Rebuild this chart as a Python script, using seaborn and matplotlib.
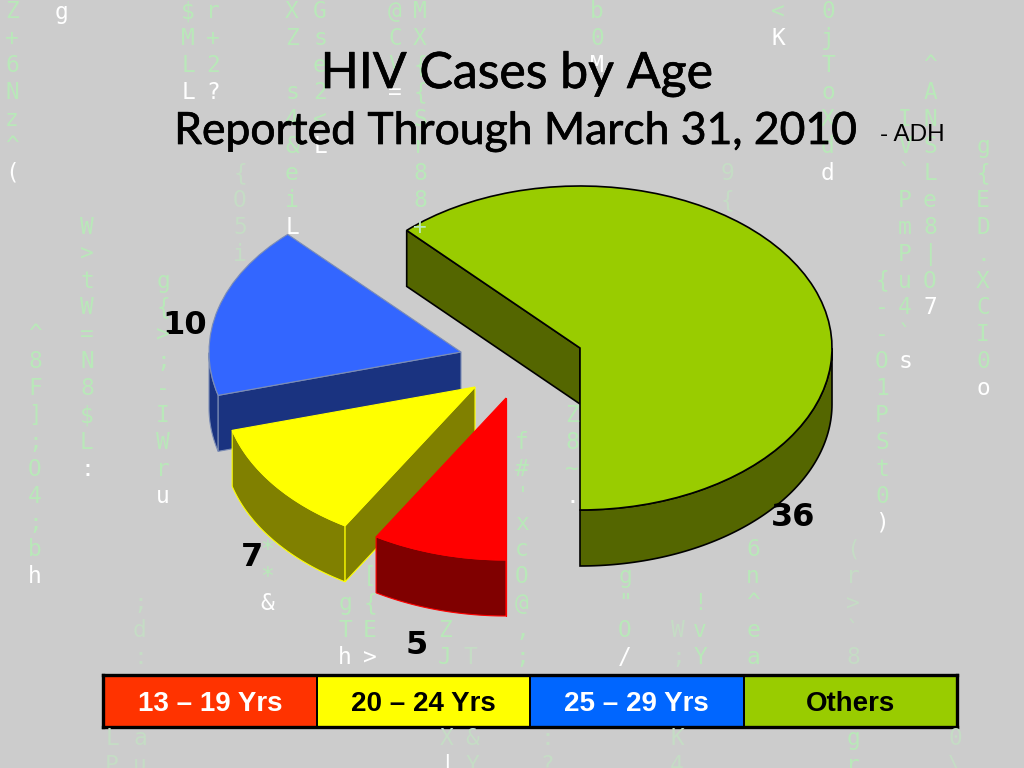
import numpy as np
import seaborn as sns
import matplotlib.pyplot as plt
import matplotlib.patheffects as pe
from matplotlib.colors import ListedColormap
from matplotlib.patches import Polygon

# chart data, pie order runs counterclockwise from straight down
pie_groups = ["Others", "25 - 29 Yrs", "20 - 24 Yrs", "13 - 19 Yrs"]
pie_cases = [36, 10, 7, 5]
pie_top_colors = ["#99CC00", "#3366FF", "#FFFF00", "#FF0000"]
pie_side_colors = ["#546600", "#1A3380", "#808000", "#800000"]
pie_edge_colors = ["#000000", "#7C8DB5", "#FFFF00", "#FF0000"]

legend_labels = ["13 – 19 Yrs", "20 – 24 Yrs", "25 – 29 Yrs", "Others"]
legend_colors = ["#FF3300", "#FFFF00", "#0066FF", "#99CC00"]
legend_text_colors = ["white", "black", "white", "black"]

title_line1 = "HIV Cases by Age"
title_line2 = "Reported Through March 31, 2010"
source_note = "- ADH"

# falling characters in the backdrop: x pixel, first row, characters, last one white, faint
backdrop_columns = [
    (12, 0, "Z+6Nz^(", True, False),
    (62, 0, "g", True, False),
    (188, 0, "$MLL", True, False),
    (213, 0, "r+2?", True, False),
    (292, 0, "XZ s4&eiL", True, False),
    (320, 0, "Gse2<L", True, False),
    (240, 6, "{O5i", False, True),
    (395, 0, "@CV=", True, False),
    (420, 0, "MX{{Sr88+", False, False),
    (597, 0, "b0M", True, False),
    (778, 0, "<K", True, False),
    (828, 0, "0jToXdd", True, False),
    (727, 6, "9{", False, True),
    (930, 2, "^ANSLe8|O7", True, False),
    (905, 4, "IV`PmPu4`s", True, False),
    (983, 5, "g{ED.XCI0o", True, False),
    (882, 10, "{--O1PSt0)", True, False),
    (35, 12, "^8F];O4;bh", True, False),
    (87, 8, "W>tW=N8$L:", True, False),
    (163, 10, "g{>;-IWru", True, False),
    (140, 22, ";d:", False, True),
    (112, 27, "LP", False, True),
    (140, 27, "au", False, True),
    (267, 20, "**&", True, False),
    (345, 22, "gTh", True, False),
    (370, 21, "[{E>", True, False),
    (445, 23, "ZJ", False, False),
    (470, 24, "T", False, True),
    (447, 27, "X|", True, True),
    (472, 27, "&Y", False, True),
    (522, 16, "f#'xcO@,;", False, False),
    (625, 21, "g\"O/", True, False),
    (572, 15, "Z8~.", True, False),
    (700, 22, "!vY", False, False),
    (678, 23, "W;", False, True),
    (753, 20, "6n^ea", False, False),
    (853, 20, "(r>`", False, True),
    (853, 24, "8", False, True),
    (853, 27, "gr", False, False),
    (547, 27, ":?", False, True),
    (677, 27, "K4", False, True),
    (955, 27, "0\\", False, True),
]

sns.set_theme(style="white", rc={"figure.facecolor": "#CCCCCC", "axes.facecolor": "none"})

# the green slice apex is the data origin, one pie radius is 252 x 162 pixels
CX, CY, RX, RY = 580, 348, 252, 162
DEPTH = 56 / RY
slice_apex_px = [(580, 348), (461, 352), (475, 387), (506, 398)]


def to_data(px, py):
    return (px - CX) / RX, (CY - py) / RY


fig = plt.figure(figsize=(10.24, 7.68), dpi=100)
ax = fig.add_axes([0, 0, 1, 1])

# backdrop text goes in first so the chart sits on top of it
for x_px, row, chars, last_white, faint in backdrop_columns:
    for i, ch in enumerate(chars):
        if ch == " ":
            continue
        color = "#C5DCC5" if faint else "#B9E8B9"
        if last_white and i == len(chars) - 1:
            color = "white"
        fig.text(x_px / 1024, 1 - (12 + 26.9 * (row + i)) / 768, ch, color=color,
                 family="DejaVu Sans Mono", fontsize=16.5, ha="center", va="center", zorder=0)

wedges, _ = ax.pie(pie_cases, startangle=-90, counterclock=True, colors=pie_top_colors, radius=1)
ax.set_aspect("auto")
ax.set_xlim(-CX / RX, (1024 - CX) / RX)
ax.set_ylim((CY - 768) / RY, CY / RY)
ax.set_axis_off()

for i, wedge in enumerate(wedges):
    cx, cy = to_data(*slice_apex_px[i])
    wedge.set_center((cx, cy))
    wedge.set_edgecolor(pie_edge_colors[i])
    wedge.set_linewidth(1.2 if i == 0 else 0.8)
    z = 2 + i * 2
    wedge.set_zorder(z + 1)

    # outer wall, only the front half of the rim shows
    theta = np.radians(np.linspace(wedge.theta1, wedge.theta2, 200))
    theta = theta[np.sin(theta) <= 0]
    rim_x = cx + np.cos(theta)
    rim_y = cy + np.sin(theta)
    wall = np.vstack([
        np.column_stack([rim_x, rim_y]),
        np.column_stack([rim_x[::-1], rim_y[::-1] - DEPTH]),
    ])
    ax.add_patch(Polygon(wall, closed=True, facecolor=pie_side_colors[i],
                         edgecolor=pie_edge_colors[i], lw=1.2 if i == 0 else 0.8, zorder=z))

    # cut face along the end of the slice
    end = np.radians(wedge.theta2)
    ex, ey = cx + np.cos(end), cy + np.sin(end)
    face = [(cx, cy), (ex, ey), (ex, ey - DEPTH), (cx, cy - DEPTH)]
    ax.add_patch(Polygon(face, closed=True, facecolor=pie_side_colors[i],
                         edgecolor=pie_edge_colors[i], lw=1.2 if i == 0 else 0.8, zorder=z))

# value labels
label_pos_px = [(793, 518), (185, 325), (252, 557), (417, 645)]
for value, (lx, ly) in zip(pie_cases, label_pos_px):
    ax.text(*to_data(lx, ly), str(value), fontsize=23, fontweight="bold", family="DejaVu Sans",
            color="black", ha="center", va="center", zorder=20)

# titles, the thin stroke thickens Lato to the weight of the original face
heavier = [pe.withStroke(linewidth=0.5, foreground="black")]
fig.text(517 / 1024, 1 - 88 / 768, title_line1, family="Lato", fontsize=36, color="black",
         ha="center", va="baseline", zorder=30, path_effects=heavier)
fig.text(516 / 1024, 1 - 144 / 768, title_line2, family="Lato", fontsize=32, color="black",
         ha="center", va="baseline", zorder=30, path_effects=heavier)
fig.text(880 / 1024, 1 - 141 / 768, source_note, family="Liberation Sans", fontsize=17.5,
         color="black", ha="left", va="baseline", zorder=30)

# legend strip as a one row heatmap
leg_ax = fig.add_axes([103 / 1024, 1 - 727 / 768, 854 / 1024, 52 / 768])
sns.heatmap(
    np.arange(len(legend_labels)).reshape(1, -1),
    cmap=ListedColormap(legend_colors),
    annot=np.array([legend_labels]),
    fmt="",
    cbar=False,
    linewidths=1.2,
    linecolor="black",
    xticklabels=False,
    yticklabels=False,
    annot_kws={"family": "Liberation Sans", "fontsize": 20, "fontweight": "bold"},
    ax=leg_ax,
)
for txt, c in zip(leg_ax.texts, legend_text_colors):
    txt.set_color(c)
    txt.set_y(0.55)
for spine in leg_ax.spines.values():
    spine.set_visible(True)
    spine.set_color("black")
    spine.set_linewidth(2.4)

fig.savefig("out.png", dpi=100, facecolor=fig.get_facecolor())
